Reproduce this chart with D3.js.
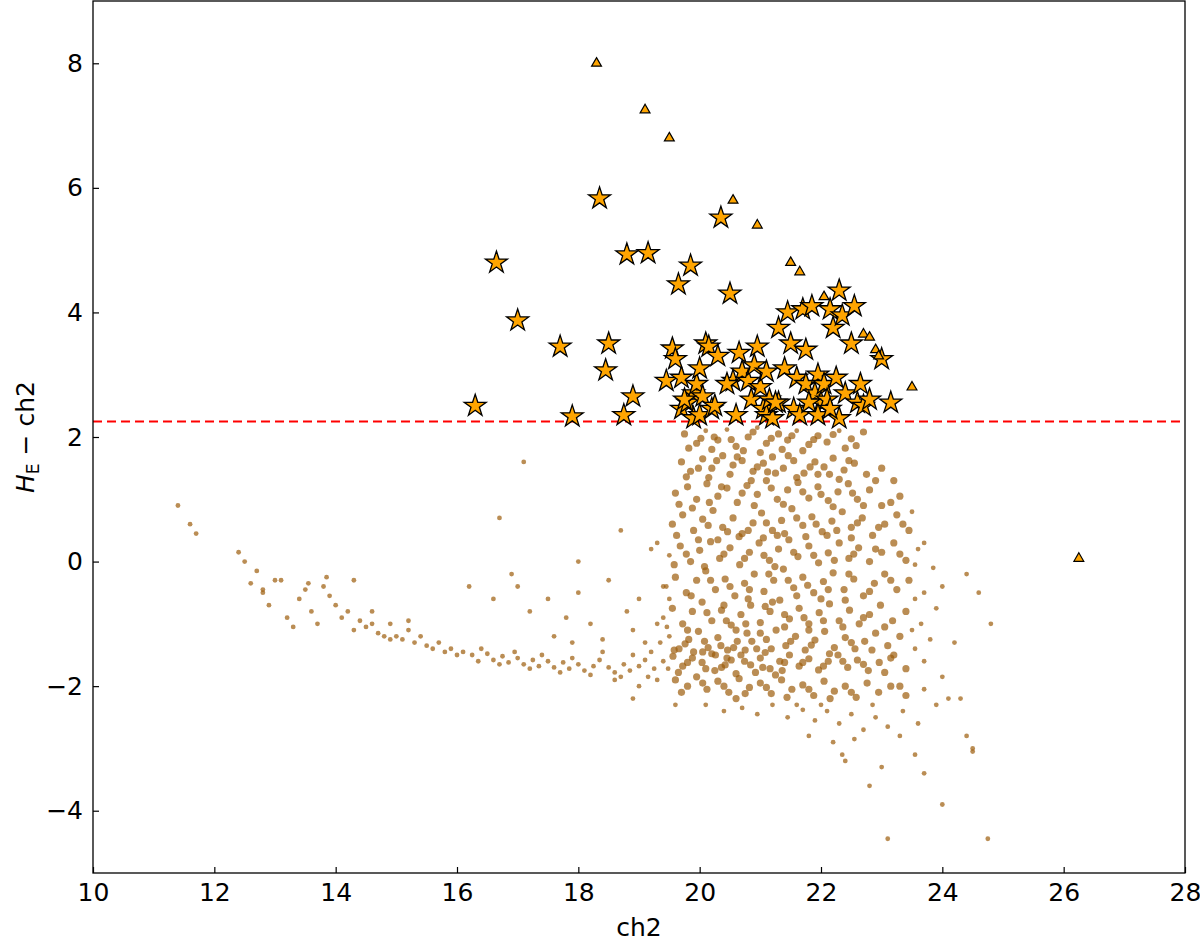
<!DOCTYPE html>
<html><head><meta charset="utf-8">
<script src="https://cdn.jsdelivr.net/npm/d3@7"></script>
<style>body{margin:0;background:#fff}svg{font-family:"DejaVu Sans",sans-serif}</style>
</head><body>
<script>
const xTicks=[10,12,14,16,18,20,22,24,26,28];
const yTicks=[-4,-2,0,2,4,6,8];
const cutLine=2.25;
const field=[[11.4,0.9],[11.6,0.6],[11.7,0.45],[12.4,0.15],[12.5,0.0],[12.6,-0.35],[12.7,-0.15],[12.8,-0.5],[12.9,-0.7],[13.0,-0.3],[13.1,-0.3],[13.2,-0.9],[13.3,-1.05],[13.4,-0.6],[13.5,-0.45],[13.6,-0.8],[13.7,-1.0],[13.8,-0.4],[13.9,-0.55],[14.0,-0.7],[14.1,-0.9],[14.2,-0.8],[14.3,-1.1],[14.4,-0.95],[14.5,-1.05],[14.6,-1.0],[14.7,-1.15],[14.8,-1.2],[14.9,-1.0],[15.0,-1.2],[15.1,-1.25],[15.2,-1.1],[15.3,-1.3],[15.4,-1.2],[15.5,-1.35],[15.6,-1.4],[15.7,-1.3],[15.8,-1.45],[15.9,-1.4],[16.0,-1.5],[13.85,-0.25],[14.3,-0.3],[12.8,-0.45],[15.2,-0.95],[14.6,-0.8],[13.55,-0.35],[14.9,-1.25],
[16.1,-1.45],[16.25,-1.5],[16.35,-1.6],[16.5,-1.48],[16.6,-1.58],[16.75,-1.52],[16.85,-1.62],[17.0,-1.55],[17.1,-1.65],[17.25,-1.58],[17.35,-1.68],[17.5,-1.6],[17.6,-1.7],[17.75,-1.62],[17.85,-1.72],[18.0,-1.65],[18.1,-1.75],[18.25,-1.68],[18.35,-1.58],[18.5,-1.7],[18.6,-1.78],[18.75,-1.65],[18.85,-1.75],[19.0,-1.68],[19.1,-1.58],[19.25,-1.72],[16.4,-1.4],[16.95,-1.45],[17.4,-1.5],[17.9,-1.55],[18.4,-1.45],[18.9,-1.5],[19.2,-1.45],[16.7,-1.65],[17.2,-1.72],[17.7,-1.78],[18.2,-1.82],[18.7,-1.85],[19.15,-1.85],
[16.2,-0.4],[16.6,-0.6],[16.9,-0.2],[17.0,-0.4],[17.2,-0.8],[17.5,-0.6],[17.8,-0.9],[18.0,-0.5],[18.2,-1.0],[18.5,-0.3],[18.8,-0.8],[19.0,-0.6],[19.2,0.2],[19.3,-1.0],[19.4,-0.4],[17.1,1.6],[16.7,0.7],[18.7,0.5],[18.0,0.0],[17.6,-1.2],[17.9,-1.3],[18.4,-1.25],[18.9,-1.1],[19.1,-1.3],[18.6,-1.9],[19.0,-2.0],[19.3,-1.9],[18.9,-2.2],[19.6,-2.3],
[19.75,2.05],[19.95,1.9],[20.1,2.1],[20.3,1.95],[20.45,2.12],[20.6,1.85],[20.8,2.0],[20.95,2.15],[21.1,1.9],[21.3,2.05],[21.45,1.95],[21.6,2.1],[21.8,1.88],[21.95,2.02],[22.1,1.92],[22.3,2.1],[22.5,1.97],[22.7,2.08],[20.2,1.8],[21.0,1.75],[21.7,1.78],[22.4,1.82],
[19.7,1.6],[19.85,1.45],[20.05,1.65],[20.2,1.5],[20.38,1.7],[20.55,1.55],[20.7,1.62],[20.88,1.45],[21.05,1.58],[21.2,1.68],[21.38,1.5],[21.55,1.62],[21.72,1.42],[21.9,1.6],[22.05,1.52],[22.2,1.66],[22.38,1.47],[22.55,1.58],[22.75,1.4],[23.0,1.5],[23.2,1.3],
[19.6,1.1],[19.8,1.2],[19.95,1.0],[20.12,1.25],[20.3,1.05],[20.45,1.18],[20.62,0.95],[20.78,1.22],[20.95,1.08],[21.1,1.3],[21.28,1.0],[21.45,1.15],[21.62,1.27],[21.8,1.02],[21.95,1.2],[22.12,0.98],[22.28,1.12],[22.45,1.25],[22.6,1.0],[22.8,1.15],[23.0,0.9],[23.3,1.05],[23.5,0.8],
[19.55,0.6],[19.72,0.75],[19.9,0.5],[20.05,0.68],[20.22,0.82],[20.38,0.55],[20.55,0.7],[20.7,0.45],[20.88,0.62],[21.02,0.78],[21.2,0.5],[21.35,0.66],[21.52,0.85],[21.7,0.58],[21.85,0.72],[22.02,0.48],[22.18,0.65],[22.35,0.8],[22.5,0.55],[22.68,0.7],[22.85,0.42],[23.05,0.6],[23.25,0.75],[23.45,0.5],[23.7,0.3],
[19.5,0.1],[19.68,0.25],[19.85,0.0],[20.0,0.18],[20.18,0.32],[20.33,0.05],[20.5,0.22],[20.66,-0.05],[20.82,0.15],[20.98,0.3],[21.15,0.02],[21.3,0.2],[21.47,0.35],[21.62,0.08],[21.8,0.25],[21.96,-0.02],[22.12,0.14],[22.3,0.3],[22.46,0.05],[22.62,0.22],[22.8,0.0],[23.0,0.15],[23.2,0.3],[23.4,0.02],[23.6,0.2],[23.85,-0.1],[19.3,0.3],
[19.45,-0.4],[19.6,-0.25],[19.78,-0.5],[19.95,-0.3],[20.1,-0.15],[20.26,-0.45],[20.42,-0.28],[20.58,-0.55],[20.74,-0.35],[20.9,-0.2],[21.06,-0.48],[21.22,-0.3],[21.38,-0.12],[21.55,-0.42],[21.7,-0.25],[21.88,-0.5],[22.04,-0.32],[22.2,-0.18],[22.38,-0.45],[22.54,-0.28],[22.7,-0.55],[22.88,-0.35],[23.05,-0.2],[23.25,-0.45],[23.45,-0.3],[23.7,-0.5],[24.0,-0.4],
[19.4,-0.9],[19.55,-0.75],[19.72,-1.0],[19.88,-0.8],[20.04,-0.65],[20.2,-0.95],[20.36,-0.78],[20.52,-1.02],[20.68,-0.85],[20.84,-0.7],[21.0,-0.98],[21.16,-0.8],[21.32,-0.62],[21.48,-0.92],[21.64,-0.75],[21.8,-1.0],[21.97,-0.82],[22.14,-0.68],[22.3,-0.95],[22.47,-0.78],[22.63,-1.0],[22.8,-0.85],[22.98,-0.7],[23.18,-0.95],[23.4,-0.8],[23.65,-1.0],[23.9,-0.75],
[19.35,-1.3],[19.5,-1.2],[19.66,-1.4],[19.82,-1.25],[19.98,-1.12],[20.14,-1.38],[20.3,-1.22],[20.46,-1.42],[20.62,-1.28],[20.78,-1.15],[20.94,-1.4],[21.1,-1.25],[21.26,-1.1],[21.42,-1.35],[21.58,-1.2],[21.74,-1.42],[21.9,-1.26],[22.06,-1.12],[22.22,-1.38],[22.4,-1.22],[22.56,-1.4],[22.72,-1.28],[22.9,-1.15],[23.1,-1.35],[23.3,-1.2],[23.55,-1.4],[23.8,-1.25],
[19.4,-1.6],[19.56,-1.52],[19.72,-1.68],[19.88,-1.55],[20.04,-1.62],[20.2,-1.48],[20.36,-1.7],[20.52,-1.58],[20.68,-1.5],[20.84,-1.66],[21.0,-1.55],[21.16,-1.72],[21.32,-1.6],[21.48,-1.5],[21.64,-1.68],[21.8,-1.56],[21.96,-1.74],[22.12,-1.6],[22.28,-1.5],[22.44,-1.7],[22.6,-1.58],[22.78,-1.75],[22.96,-1.62],[23.15,-1.55],[23.4,-1.72],[23.7,-1.6],[24.0,-1.85],
[19.6,-1.9],[19.8,-2.0],[19.95,-1.85],[20.12,-2.05],[20.3,-1.92],[20.48,-2.1],[20.65,-1.88],[20.82,-2.02],[21.0,-1.95],[21.18,-2.12],[21.35,-1.9],[21.52,-2.05],[21.7,-1.98],[21.88,-2.15],[22.05,-1.92],[22.22,-2.08],[22.4,-2.0],[22.58,-2.18],[22.76,-1.95],[22.95,-2.1],[23.15,-2.0],[23.4,-2.15],[23.7,-2.05],[24.1,-2.2],
[20.1,-2.3],[20.4,-2.4],[20.7,-2.35],[20.95,-2.45],[21.2,-2.3],[21.45,-2.5],[21.7,-2.38],[21.9,-2.55],[22.1,-2.4],[22.3,-2.6],[22.5,-2.45],[22.7,-2.7],[22.9,-2.5],[23.1,-2.65],[23.35,-2.4],[23.6,-2.6],[23.9,-2.3],
[22.2,-2.9],[22.35,-3.1],[22.55,-2.85],[22.8,-3.6],[23.0,-3.3],[23.3,-2.8],[23.55,-3.1],[23.7,-3.4],[24.0,-3.9],[24.4,-2.8],[24.5,-3.0],[24.5,-3.05],[24.75,-4.45],[23.1,-4.45],[22.4,-3.2],[21.8,-2.8],[24.3,-2.2],[24.6,-0.5],[24.4,-0.2],[24.2,-1.3],[24.8,-1.0],
[20.05,-1.45],[20.25,-1.75],[20.45,-1.55],[20.6,-1.8],[20.75,-1.42],[20.92,-1.78],[21.08,-1.46],[21.25,-1.82],[21.4,-1.62],[19.65,-1.78],[19.9,-1.45],[20.35,-1.35],[20.15,1.35],[20.5,1.4],[20.85,1.3],[21.25,1.42],[21.6,1.35],[21.95,1.4],[22.3,1.32],[20.3,0.35],[20.65,0.4],[21.05,0.38],[21.4,0.45],[21.75,0.4],[22.1,0.42],[22.5,0.38],[20.4,-0.7],[20.8,-0.6],[21.2,-0.65],[21.6,-0.55],[22.0,-0.6],[22.4,-0.62],[20.6,-1.1],[21.0,-1.15],[21.4,-1.05],[21.8,-1.1],
[19.82,1.82],[20.02,1.98],[20.24,2.0],[20.52,1.96],[20.72,1.78],[20.88,2.08],[21.18,1.98],[21.36,1.8],[21.52,2.02],[21.88,1.96],[22.2,2.04],[22.58,1.86],[19.78,1.36],[19.98,1.5],[20.28,1.62],[20.62,1.68],[20.95,1.52],[21.12,1.44],[21.46,1.7],[21.82,1.52],[22.14,1.4],[22.46,1.62],[22.9,1.3],
[19.66,0.92],[19.88,0.86],[20.16,0.95],[20.36,1.2],[20.7,1.1],[20.9,0.9],[21.18,1.18],[21.38,0.92],[21.7,1.12],[22.0,1.08],[22.2,0.88],[22.52,1.1],[22.7,0.9],[23.15,0.95],[19.62,0.42],[19.98,0.35],[20.14,0.58],[20.46,0.48],[20.8,0.5],[21.1,0.62],[21.28,0.42],[21.6,0.7],[21.92,0.6],[22.26,0.5],[22.6,0.62],[22.95,0.55],[23.35,0.6],
[19.58,-0.05],[19.78,0.12],[20.08,-0.08],[20.4,0.12],[20.74,0.05],[21.06,0.1],[21.24,-0.08],[21.55,0.15],[21.88,0.1],[22.22,0.02],[22.54,0.12],[22.9,0.2],[23.3,0.12],[23.55,-0.05],[19.5,-0.6],[19.86,-0.55],[20.18,-0.3],[20.5,-0.4],[20.82,-0.45],[21.14,-0.2],[21.46,-0.3],[21.78,-0.38],[22.12,-0.45],[22.46,-0.2],[22.8,-0.48],[23.15,-0.3],[23.55,-0.6],
[19.46,-1.05],[19.8,-1.1],[20.12,-0.82],[20.44,-0.95],[20.76,-1.0],[21.08,-0.72],[21.4,-0.85],[21.72,-0.9],[22.04,-0.95],[22.36,-1.05],[22.7,-0.9],[23.05,-1.05],[23.5,-1.1],[19.58,-1.42],[19.76,-1.32],[20.08,-1.28],[20.26,-1.5],[20.56,-1.38],[20.86,-1.28],[21.18,-1.4],[21.5,-1.28],[21.84,-1.34],[22.14,-1.48],[22.5,-1.3],[22.84,-1.42],[23.2,-1.5],
[19.48,-1.72],[19.8,-1.62],[20.1,-1.72],[20.42,-1.66],[20.74,-1.6],[21.04,-1.7],[21.36,-1.75],[21.7,-1.62],[22.04,-1.68],[22.36,-1.6],[22.7,-1.65],[23.05,-1.78],[19.7,-2.1],[20.05,-1.95],[20.4,-2.0],[20.75,-2.12],[21.1,-2.02],[21.44,-2.18],[21.8,-2.05],[22.15,-2.2],[22.5,-2.1],[22.85,-2.3],[23.3,-2.0],[20.6,-2.2],[21.6,-2.3],[22.0,-2.3]];
const stars=[[16.3,2.5],[16.65,4.8],[17.0,3.87],[17.7,3.45],[17.9,2.33],[18.35,5.83],[18.45,3.07],[18.5,3.5],[18.75,2.35],[18.8,4.93],[18.9,2.65],[19.15,4.95],[19.45,2.9],[19.55,3.42],[19.6,3.25],[19.65,4.45],[19.7,2.95],[19.7,2.45],[19.8,2.55],[19.85,4.75],[19.9,2.3],[19.9,2.7],[19.95,2.85],[20.0,3.1],[20.0,2.35],[20.05,2.65],[20.1,3.5],[20.15,3.45],[20.2,2.45],[20.25,2.5],[20.3,3.3],[20.35,5.52],[20.5,4.3],[20.55,2.9],[20.6,2.35],[20.65,3.35],[20.7,3.05],[20.8,2.9],[20.85,2.6],[20.9,3.15],[20.95,3.45],[21.0,2.8],[21.05,2.45],[21.1,2.35],[21.1,3.05],[21.15,2.6],[21.2,2.3],[21.3,3.75],[21.3,2.55],[21.4,3.1],[21.45,4.0],[21.5,3.5],[21.55,2.45],[21.6,2.95],[21.65,2.35],[21.7,4.05],[21.75,2.85],[21.75,3.4],[21.85,4.1],[21.9,2.7],[21.95,3.0],[22.0,2.55],[22.05,2.85],[22.1,2.6],[22.15,4.05],[22.2,3.75],[22.25,2.95],[22.3,2.3],[22.3,4.35],[22.35,3.95],[22.4,2.7],[22.5,3.5],[22.55,4.1],[22.6,2.55],[22.65,2.85],[22.7,2.5],[22.8,2.6],[23.0,3.25],[23.15,2.55],[21.8,2.55],[21.95,2.35],[22.15,2.45],[19.75,2.6],[20.45,2.85],[21.25,2.55]];
const triangles=[[18.3,8.0],[19.1,7.25],[19.5,6.8],[20.55,5.8],[20.95,5.4],[21.5,4.8],[21.65,4.65],[22.05,4.25],[22.7,3.65],[22.8,3.6],[22.9,3.4],[22.95,3.3],[23.5,2.8],[26.25,0.05]];

const W=1200,H=944,m={l:93,r:15,t:1,b:71};
const svg=d3.select("body").append("svg").attr("width",W).attr("height",H);
const x=d3.scaleLinear().domain([10,28]).range([m.l,W-m.r]);
const y=d3.scaleLinear().domain([-5,9]).range([H-m.b,m.t]);
const g=svg.append("g");
g.selectAll("circle.f").data(field).join("circle").attr("class","f")
 .attr("cx",d=>x(d[0])).attr("cy",d=>y(d[1])).attr("r",d=>d[0]>19.5&&d[0]<23.5&&d[1]>-2.3&&d[1]<2.1?3.6:2.4)
 .attr("fill","#9c5d0b").attr("fill-opacity",0.7);
g.append("line").attr("x1",x(10)).attr("x2",x(28)).attr("y1",y(cutLine)).attr("y2",y(cutLine))
 .attr("stroke","#ff0000").attr("stroke-width",2).attr("stroke-dasharray","9,5");
const star=d3.symbol().type(d3.symbolStar).size(150);
g.selectAll("path.s").data(stars).join("path").attr("class","s")
 .attr("d",star).attr("transform",d=>`translate(${x(d[0])},${y(d[1])})`)
 .attr("fill","#ffa500").attr("stroke","#000").attr("stroke-width",1.3);
const tri=d3.symbol().type(d3.symbolTriangle).size(42);
g.selectAll("path.t").data(triangles).join("path").attr("class","t")
 .attr("d",tri).attr("transform",d=>`translate(${x(d[0])},${y(d[1])})`)
 .attr("fill","#ffa500").attr("stroke","#000").attr("stroke-width",1.2);
svg.append("rect").attr("x",m.l).attr("y",m.t).attr("width",W-m.l-m.r).attr("height",H-m.t-m.b)
 .attr("fill","none").attr("stroke","#000").attr("stroke-width",1.3);
const fmt=d=>d<0?"\u2212"+Math.abs(d):String(d);
const xa=svg.append("g").attr("transform",`translate(0,${H-m.b})`)
 .call(d3.axisBottom(x).tickValues(xTicks).tickSize(-6).tickPadding(10).tickFormat(fmt));
const ya=svg.append("g").attr("transform",`translate(${m.l},0)`)
 .call(d3.axisLeft(y).tickValues(yTicks).tickSize(-6).tickPadding(10).tickFormat(fmt));
[xa,ya].forEach(a=>{a.select(".domain").remove();a.selectAll("text").attr("font-size",25).attr("fill","#000").attr("font-family","DejaVu Sans");a.selectAll("line").attr("stroke","#000").attr("stroke-width",1.2);});
svg.append("text").attr("x",(m.l+W-m.r)/2).attr("y",H-8).attr("text-anchor","middle").attr("font-size",25).text("ch2");
const yl=svg.append("text").attr("transform",`translate(34,${(m.t+H-m.b)/2}) rotate(-90)`).attr("text-anchor","middle").attr("font-size",25);
yl.append("tspan").attr("font-style","italic").text("H");
yl.append("tspan").attr("font-size",17).attr("dy",5).text("E");
yl.append("tspan").attr("dy",-5).text(" \u2212 ch2");
</script>
</body></html>
